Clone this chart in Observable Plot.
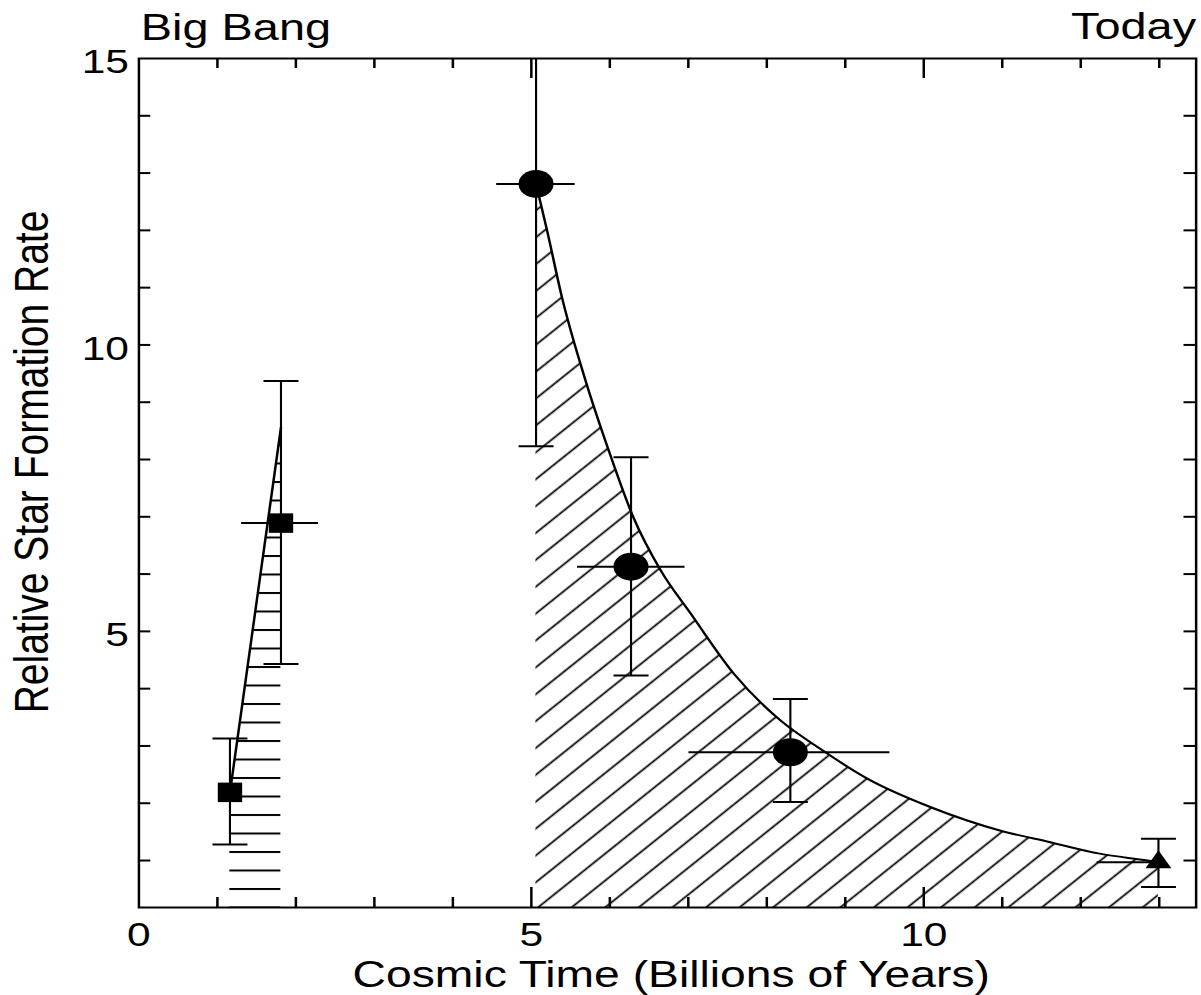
<!DOCTYPE html>
<html>
<head>
<meta charset="utf-8">
<script src="https://cdn.jsdelivr.net/npm/d3@7"></script>
<script src="https://cdn.jsdelivr.net/npm/@observablehq/plot@0.6"></script>
<style>
  html, body { margin: 0; padding: 0; background: #fff; }
  #chart { width: 1201px; height: 995px; overflow: hidden; }
</style>
</head>
<body>
<div id="chart"></div>
<script>
// ---------------- data ----------------
const xTicks = [0, 5, 10];
const xMinorTicks = [1, 2, 3, 4, 6, 7, 8, 9, 11, 12, 13];
const yTicks = [5, 10, 15];
const yMinorTicks = [1, 2, 3, 4, 6, 7, 8, 9, 11, 12, 13, 14];
const xDomain = [0, 13.47];
const yDomain = [0.18, 15];

const topLeftLabel = "Big Bang";
const topRightLabel = "Today";
const xTitle = "Cosmic Time (Billions of Years)";
const yTitle = "Relative Star Formation Rate";

// squares (early epoch)
const sqX = [1.16, 1.81];
const sqY = [2.19, 6.89];
const sqYLo = [1.28, 4.43];
const sqYHi = [3.13, 9.37];
const sqXLo = [null, 1.31];
const sqXHi = [null, 2.29];

// circles
const circX = [5.06, 6.27, 8.30];
const circY = [12.81, 6.13, 2.89];
const circYLo = [8.23, 4.23, 2.02];
const circYHi = [15, 8.04, 3.82];
const circXLo = [4.56, 5.59, 7.01];
const circXHi = [5.56, 6.96, 9.57];

// triangle (today)
const triX = [12.99];
const triY = [0.97];
const triYLo = [0.54];
const triYHi = [1.38];
const triXLo = [12.21];
const triXHi = [12.99];

// rising envelope (left hatched region)
const rampX = [1.16, 1.81];
const rampY = [2.19, 8.56];

// decaying envelope (right hatched region)
const curveX = [5.06, 5.20, 5.39, 5.69, 5.97, 6.30, 6.65, 7.03, 7.58, 8.17, 8.68, 9.28, 10.09, 10.98, 11.61, 12.24, 12.85, 12.99];
const curveY = [12.81, 12.00, 10.83, 9.38, 8.22, 6.99, 6.06, 5.31, 4.26, 3.45, 2.95, 2.43, 1.93, 1.52, 1.32, 1.12, 1.00, 0.97];

// ---------------- layout ----------------
const SX = 1.25;                 // the original figure is stretched horizontally
const PAGE_W = 1201, H = 995;
const W = PAGE_W / SX;
const ML = 138.3 / SX, MR = (PAGE_W - 1195.5) / SX, MT = 58, MB = 88;
const FW = W - ML - MR, FH = H - MT - MB;
const FONT = "'Liberation Sans', Arial, Helvetica, sans-serif";

const mk = (X, Y, YL, YH, XL, XH) => X.map((x, i) => ({x, y: Y[i], ylo: YL[i], yhi: YH[i], xlo: XL[i], xhi: XH[i]}));
const squares = mk(sqX, sqY, sqYLo, sqYHi, sqXLo, sqXHi);
const circles = mk(circX, circY, circYLo, circYHi, circXLo, circXHi);
const triangles = mk(triX, triY, triYLo, triYHi, triXLo, triXHi);
const allPts = [...squares, ...circles, ...triangles];
const caps = [];
for (const p of allPts) {
  caps.push({x: p.x, y: p.ylo});
  if (p.yhi < yDomain[1]) caps.push({x: p.x, y: p.yhi});
}
const hbars = allPts.filter(p => p.xlo != null);
const ramp = rampX.map((x, i) => ({x, y: rampY[i]}));
const curve = curveX.map((x, i) => ({x, y: curveY[i]}));

const capSymbol = {
  draw(ctx, size) {
    const r = Math.sqrt(size / Math.PI);
    ctx.moveTo(-r, 0);
    ctx.lineTo(r, 0);
  }
};

const SW = 2;

const svg = Plot.plot({
  width: W, height: H,
  marginLeft: ML, marginRight: MR, marginTop: MT, marginBottom: MB,
  x: {domain: xDomain, axis: null},
  y: {domain: yDomain, axis: null},
  style: {fontFamily: FONT, background: "white", color: "black"},
  marks: [
    // hatched regions
    Plot.areaY(curve, {x: "x", y1: yDomain[0], y2: "y", fill: "url(#hatch-diag)", curve: "monotone-x"}),
    Plot.areaY(ramp, {x: "x", y1: yDomain[0], y2: "y", fill: "url(#hatch-horiz)"}),
    Plot.line(curve, {x: "x", y: "y", stroke: "black", strokeWidth: SW, curve: "monotone-x"}),
    Plot.line(ramp, {x: "x", y: "y", stroke: "black", strokeWidth: SW}),
    // error bars
    Plot.ruleX(allPts, {x: "x", y1: "ylo", y2: "yhi", stroke: "black", strokeWidth: SW * 0.85}),
    Plot.ruleY(hbars, {y: "y", x1: "xlo", x2: "xhi", stroke: "black", strokeWidth: SW}),
    Plot.dot(caps, {x: "x", y: "y", symbol: capSymbol, r: 14, stroke: "black", fill: "none", strokeWidth: SW}),
    // markers
    Plot.dot(squares, {x: "x", y: "y", symbol: "square", r: 11, fill: "black", stroke: "none"}),
    Plot.dot(circles, {x: "x", y: "y", symbol: "circle", r: 14, fill: "black", stroke: "none"}),
    Plot.dot(triangles, {x: "x", y: "y", symbol: "triangle", r: 7.7, fill: "black", stroke: "none"}),
    // frame and inward ticks
    Plot.frame({stroke: "black", strokeWidth: SW}),
    Plot.tickX(xTicks.filter(d => d > xDomain[0]), {x: d => d, insetTop: FH - 20, stroke: "black", strokeWidth: SW}),
    Plot.tickX(xMinorTicks, {x: d => d, insetTop: FH - 10, stroke: "black", strokeWidth: SW}),
    Plot.tickX(xTicks.filter(d => d > xDomain[0]), {x: d => d, insetBottom: FH - 20, stroke: "black", strokeWidth: SW}),
    Plot.tickX(xMinorTicks, {x: d => d, insetBottom: FH - 10, stroke: "black", strokeWidth: SW}),
    Plot.tickY([...yTicks.filter(d => d < yDomain[1]), ...yMinorTicks], {y: d => d, insetRight: FW - 12 / SX, stroke: "black", strokeWidth: SW}),
    Plot.tickY([...yTicks.filter(d => d < yDomain[1]), ...yMinorTicks], {y: d => d, insetLeft: FW - 12 / SX, stroke: "black", strokeWidth: SW}),
    // tick labels
    Plot.text(yTicks, {x: xDomain[0], y: d => d, text: d => String(d), textAnchor: "end", dx: -8, dy: 4, fontSize: 34, fill: "black"}),
    Plot.text(xTicks, {x: d => d, y: yDomain[0], text: d => String(d), lineAnchor: "bottom", dy: 38, fontSize: 34, fill: "black"}),
    // titles
    Plot.text([topLeftLabel], {x: xDomain[0], y: yDomain[1], text: d => d, textAnchor: "start", lineAnchor: "bottom", dx: 1.5, dy: -19, fontSize: 37.5, fill: "black"}),
    Plot.text([topRightLabel], {x: xDomain[1], y: yDomain[1], text: d => d, textAnchor: "end", lineAnchor: "bottom", dy: -20, fontSize: 37.5, fill: "black"}),
    Plot.text([xTitle], {frameAnchor: "bottom", text: d => d, lineAnchor: "bottom", dx: 3, dy: 79, fontSize: 37, fill: "black"}),
    Plot.text([yTitle], {frameAnchor: "left", text: d => d, rotate: -90, textAnchor: "middle", lineAnchor: "middle", dx: (32 - 138.3) / SX, dy: -21, fontSize: 39, fill: "black"})
  ]
});

// hatch patterns
const NS = "http://www.w3.org/2000/svg";
const defs = document.createElementNS(NS, "defs");
function pattern(id, w, h, lineY, sw, transform) {
  const p = document.createElementNS(NS, "pattern");
  p.setAttribute("id", id);
  p.setAttribute("patternUnits", "userSpaceOnUse");
  p.setAttribute("width", w);
  p.setAttribute("height", h);
  if (transform) p.setAttribute("patternTransform", transform);
  const l = document.createElementNS(NS, "line");
  l.setAttribute("x1", -1); l.setAttribute("x2", w + 1);
  l.setAttribute("y1", lineY); l.setAttribute("y2", lineY);
  l.setAttribute("stroke", "black");
  l.setAttribute("stroke-width", sw);
  p.appendChild(l);
  return p;
}
defs.appendChild(pattern("hatch-horiz", 20, 18.5, 1, 2, null));
defs.appendChild(pattern("hatch-diag", 20, 19, 15, 1.6, "rotate(-45)"));
svg.insertBefore(defs, svg.firstChild);

// stretch horizontally like the original
svg.setAttribute("viewBox", `0 0 ${W} ${H}`);
svg.setAttribute("width", PAGE_W);
svg.setAttribute("height", H);
svg.setAttribute("preserveAspectRatio", "none");
svg.style.maxWidth = "none";
svg.style.width = PAGE_W + "px";
svg.style.height = H + "px";

document.getElementById("chart").appendChild(svg);
</script>
</body>
</html>
